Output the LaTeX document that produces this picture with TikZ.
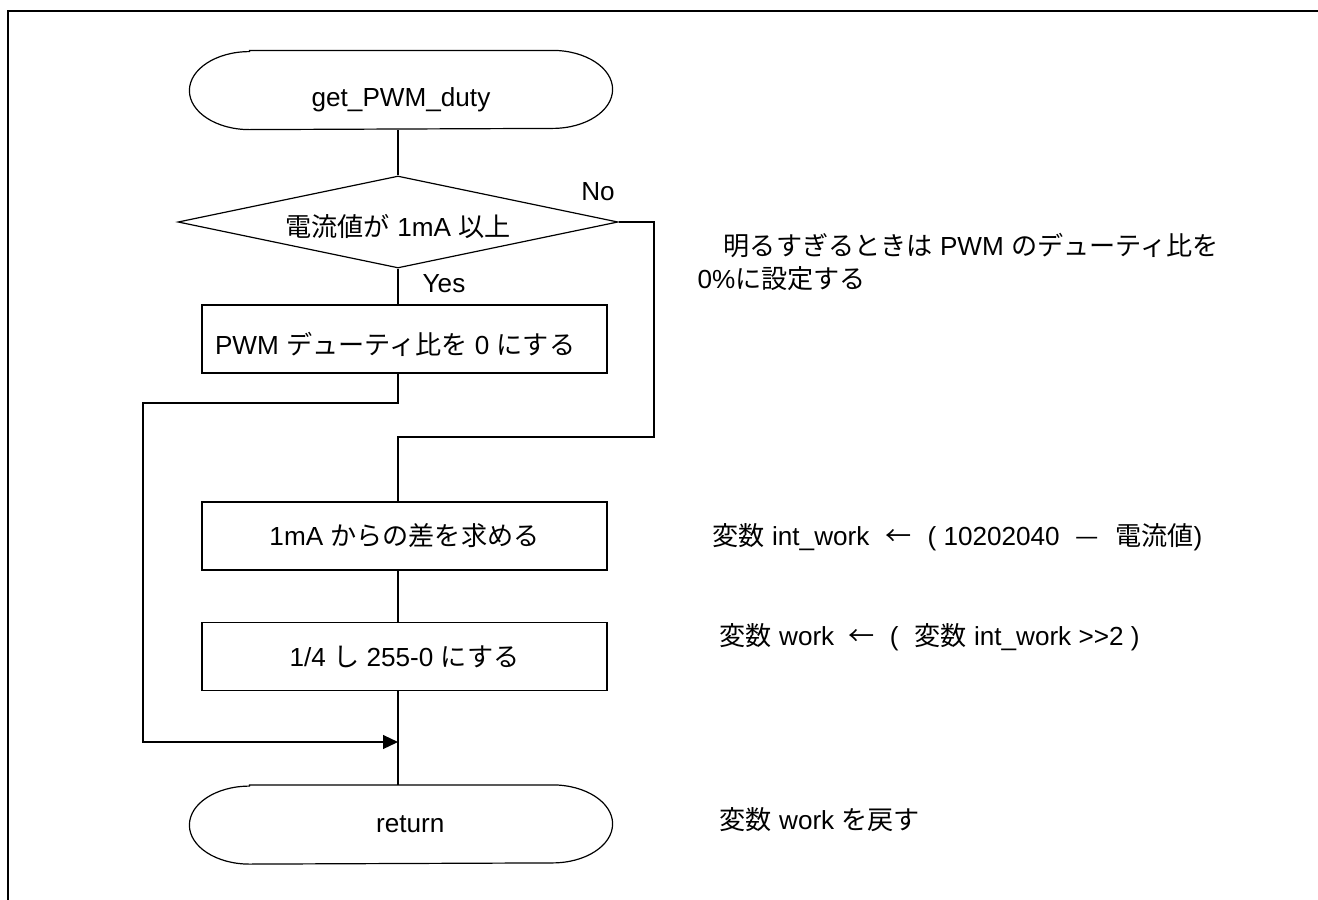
\documentclass[tikz,border=0pt]{standalone}
\usepackage{fontspec}
\setmainfont{Liberation Sans}
\newfontfamily\jp{Noto Sans CJK JP}
\usetikzlibrary{shapes.geometric,arrows.meta,calc}
\newcommand\lowr[2]{\raisebox{-#1}[\height][\depth]{#2}}
\begin{document}
\begin{tikzpicture}[x=0.75pt,y=-0.75pt,line width=0.9pt,
  every node/.style={font=\fontsize{19.6}{24.75}\selectfont},
  procbox/.style={draw,rectangle,minimum width=303.75pt,minimum height=51pt,inner sep=0pt},
  decbox/.style={draw,diamond,aspect=4.78,minimum width=330pt,minimum height=69pt,inner sep=0pt},
  termbox/.style={rectangle,minimum width=316.5pt,minimum height=58.5pt,inner sep=0pt},
  txt/.style={inner sep=0pt,anchor=west,align=left},
  lbl/.style={inner sep=0pt},
  conn/.style={line width=0.9pt},
  tip/.style={-{Triangle[length=11.25pt,width=10.5pt]}}]
\useasboundingbox (0,0) rectangle (1318,900);
% frame
\draw[line width=1.6pt] (1318,11) -- (8,11) -- (8,900);

% nodes
\node[termbox] (start) at (401,90) {\lowr{7pt}{get\_PWM\_duty}};
\node[decbox] (dec) at (398,222) {\lowr{3.5pt}{{\jp 電流値が} 1mA {\jp 以上}}};
\node[procbox] (b1) at (404.5,339) {\lowr{4pt}{PWM {\jp デューティ比を} 0 {\jp にする}\hspace{14pt}}};
\node[procbox] (b2) at (404.5,536) {1mA {\jp からの差を求める}};
\node[procbox] (b3) at (404.5,656.5) {1/4 {\jp し} 255-0 {\jp にする}};
\node[termbox] (ret) at (401,824.5) {\hspace{14pt}return};

% terminal outlines
\foreach \t in {start,ret}{
  \draw ([xshift=45pt]\t.north west) -- ([xshift=-45pt]\t.north east)
    arc[start angle=90,end angle=-90,x radius=45pt,y radius=29.25pt]
    -- ([xshift=45pt]\t.south west)
    arc[start angle=270,end angle=90,x radius=45pt,y radius=29.25pt] -- cycle;
}

% labels
\node[lbl] (no) at (598,192) {No};
\node[lbl] (yes) at (444,284) {Yes};

% side notes
\node[txt] (n1) at (697,261.5) {{\jp 　明るすぎるときは} PWM {\jp のデューティ比を}\\0\%{\jp に設定する}};
\node[txt] (n2) at (712,537) {{\jp 変数} int\_work\hspace{12pt}{\jp ←}\hspace{12pt}( 10202040\hspace{12pt}{\jp —}\hspace{12pt}{\jp 電流値})};
\node[txt] (n3) at (719,637) {{\jp 変数} work\hspace{11pt}{\jp ←}\hspace{11pt}(\hspace{12pt}{\jp 変数} int\_work >{}>2 )};
\node[txt] (n4) at (719,820) {{\jp 変数} work {\jp を戻す}};

% junction coordinates
\coordinate (jl) at (143,403);
\coordinate (jr) at (654,437);
\coordinate (merge) at (398,742);

% connectors
\draw[conn] (dec.north) -- (dec.north |- start.south);
\draw[conn] (dec.south) -- (dec.south |- b1.north);
\draw[conn,tip] (b1.south -| merge) -- (merge |- jl) -- (jl) -- (jl |- merge) -- (merge);
\draw[conn] (dec.east) -- (dec.east -| jr) -- (jr) -- (merge |- jr) -- (b2.north -| merge);
\draw[conn] (b2.south -| merge) -- (b3.north -| merge);
\draw[conn] (b3.south -| merge) -- (ret.north -| merge);
\end{tikzpicture}
\end{document}
